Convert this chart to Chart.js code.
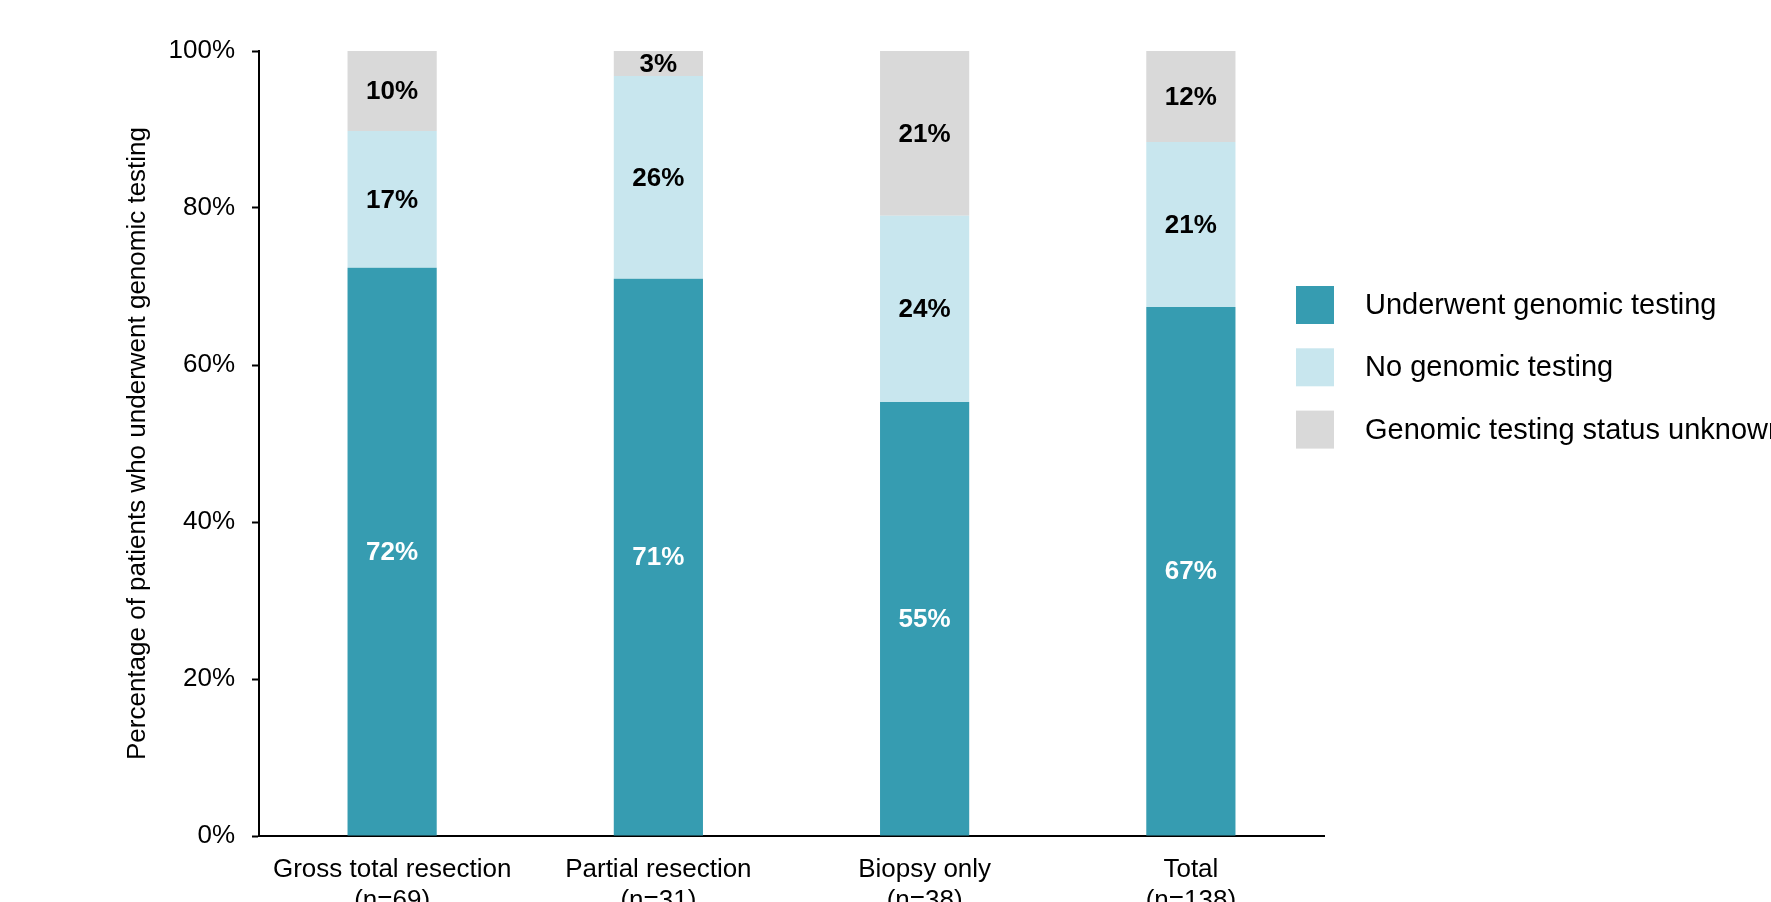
<!DOCTYPE html>
<html>
<head>
<meta charset="utf-8">
<script src="https://cdn.jsdelivr.net/npm/chart.js@4.4.1/dist/chart.umd.min.js"></script>
<style>
  html, body { margin: 0; padding: 0; background: #fff; overflow: hidden; }
  #wrap { width: 1771px; height: 940px; }
</style>
</head>
<body>
<div id="wrap"><canvas id="c" width="1771" height="940"></canvas></div>
<script>
// Surgery groups and their patient counts
const categories = ['Gross total resection', 'Partial resection', 'Biopsy only', 'Total'];
const sampleSizes = [69, 31, 38, 138];

// Share of patients (%) in each group
const underwent = [72.4, 71.0, 55.3, 67.4];
const noTesting = [17.4, 25.8, 23.7, 21.0];
const unknown = [10.2, 3.2, 21.0, 11.6];

const seriesNames = ['Underwent genomic testing', 'No genomic testing', 'Genomic testing status unknown'];
const yTicks = [0, 20, 40, 60, 80, 100];

const FONT = "'Liberation Sans', Arial, sans-serif";
const colors = ['#369CB1', '#C8E6EE', '#D9D9D9'];
const labelColors = ['#FFFFFF', '#000000', '#000000'];

const xLabels = categories.map((c, i) => [c, '(n=' + sampleSizes[i] + ')']);

// Value labels centred inside each stacked segment
const segmentLabels = {
  id: 'segmentLabels',
  afterDatasetsDraw(chart) {
    const ctx = chart.ctx;
    ctx.save();
    ctx.font = 'bold 26px ' + FONT;
    ctx.textAlign = 'center';
    ctx.textBaseline = 'middle';
    chart.data.datasets.forEach((ds, di) => {
      const meta = chart.getDatasetMeta(di);
      meta.data.forEach((bar, i) => {
        const v = ds.data[i];
        ctx.fillStyle = labelColors[di];
        ctx.fillText(Math.round(v) + '%', bar.x, (bar.y + bar.base) / 2 + 1);
      });
    });
    ctx.restore();
  }
};

// Square-swatch legend to the right of the plot
const sideLegend = {
  id: 'sideLegend',
  afterDraw(chart) {
    const ctx = chart.ctx;
    const area = chart.chartArea;
    const boxX = area.right - 28;
    const firstY = area.top + 254;
    const step = 62.3;
    const box = 38;
    ctx.save();
    ctx.font = '29px ' + FONT;
    ctx.textAlign = 'left';
    ctx.textBaseline = 'middle';
    chart.data.datasets.forEach((ds, di) => {
      const cy = firstY + di * step;
      ctx.fillStyle = ds.backgroundColor;
      ctx.fillRect(boxX, cy - box / 2, box, box);
      ctx.fillStyle = '#000';
      ctx.fillText(ds.label, boxX + 69, cy + 1);
    });
    ctx.restore();
  }
};

new Chart(document.getElementById('c'), {
  type: 'bar',
  data: {
    labels: xLabels,
    datasets: [
      { label: seriesNames[0], data: underwent, backgroundColor: colors[0] },
      { label: seriesNames[1], data: noTesting, backgroundColor: colors[1] },
      { label: seriesNames[2], data: unknown, backgroundColor: colors[2] }
    ]
  },
  options: {
    responsive: false,
    animation: false,
    layout: { padding: { top: 51, right: 447, bottom: 0, left: 118 } },
    datasets: {
      bar: { categoryPercentage: 1, barPercentage: 0.335, borderWidth: 0 }
    },
    plugins: {
      legend: { display: false },
      tooltip: { enabled: false }
    },
    scales: {
      x: {
        stacked: true,
        grid: { display: true, drawOnChartArea: false, drawTicks: false },
        border: { display: true, color: '#000', width: 2 },
        ticks: { color: '#000', font: { family: FONT, size: 26 }, padding: 18, maxRotation: 0 },
        afterFit(scale) { scale.height = 104; }
      },
      y: {
        stacked: true,
        min: 0,
        max: 100,
        afterBuildTicks(scale) { scale.ticks = yTicks.map(v => ({ value: v })); },
        grid: { display: true, drawOnChartArea: false, drawTicks: true, tickLength: 7, color: '#000', tickWidth: 2 },
        border: { display: true, color: '#000', width: 2 },
        ticks: {
          color: '#000',
          font: { family: FONT, size: 26 },
          padding: 17,
          callback: v => v + '%'
        },
        title: {
          display: true,
          text: 'Percentage of patients who underwent genomic testing',
          color: '#000',
          font: { family: FONT, size: 26 },
          padding: { top: 4, bottom: 4 }
        },
        afterFit(scale) { scale.width = 141; }
      }
    }
  },
  plugins: [segmentLabels, sideLegend]
});
</script>
</body>
</html>
